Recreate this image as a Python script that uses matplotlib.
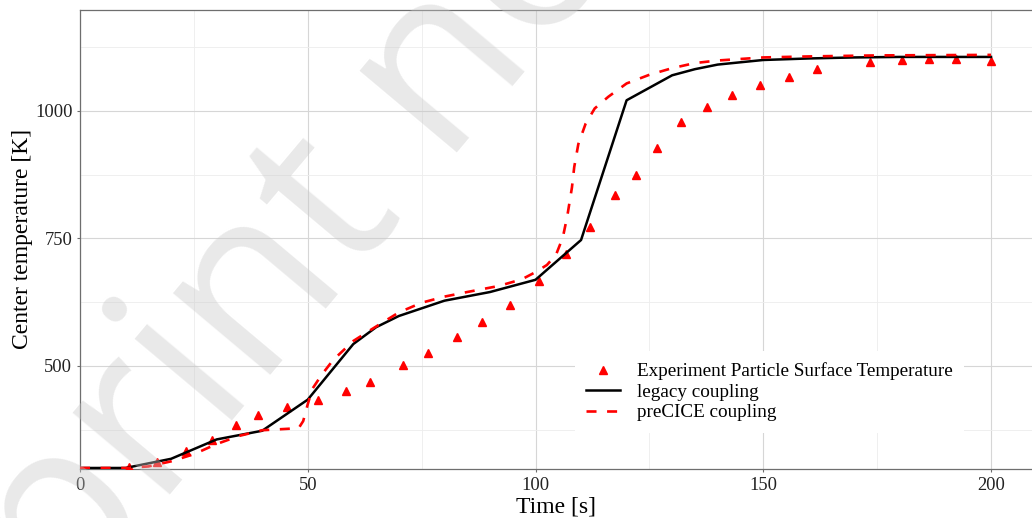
import matplotlib
matplotlib.use("Agg")
import matplotlib.pyplot as plt
from matplotlib.ticker import MultipleLocator

# experiment: particle surface temperature (triangles)
time_exp = [10.8, 16.8, 23.3, 28.9, 34.2, 39.1, 45.5, 52.3, 58.5, 63.7, 71.0, 76.5,
            82.7, 88.3, 94.5, 100.8, 106.7, 112.0, 117.5, 122.0, 126.7, 132.0, 137.6,
            143.1, 149.3, 155.6, 161.9, 173.5, 180.4, 186.3, 192.4, 199.9]
temp_exp = [302, 312, 334, 355, 384, 404, 419, 433, 450, 468, 501, 525,
            556, 586, 620, 667, 719, 773, 835, 874, 927, 979, 1007,
            1031, 1050, 1067, 1083, 1096, 1099, 1101, 1101, 1098]

# legacy coupling (black solid)
time_legacy = [0, 10, 20, 30, 40, 50, 60, 65, 70, 80, 90, 100, 110, 120, 130, 135,
               140, 150, 160, 170, 180, 190, 200]
temp_legacy = [300, 300, 318, 356, 373, 434, 543, 576, 598, 628, 645, 669, 747, 1021,
               1070, 1082, 1091, 1100, 1103, 1105, 1106, 1106, 1106]

# preCICE coupling (red dashed)
time_precice = [0, 10, 15, 20, 25, 30, 35, 40, 44, 48, 49, 50, 51, 53, 55.6, 60, 64.4,
                70, 75, 80, 85, 92, 97, 100, 102.5, 104.5, 106, 107, 108, 108.5, 109.4,
                111, 113, 116, 120, 125, 130, 135, 140, 150, 160, 175, 200]
temp_precice = [300, 300, 303, 313, 327, 347, 363, 374, 376, 378, 392, 425, 455, 482,
                512, 549, 574, 605, 624, 636, 645, 657, 670, 684, 698, 718, 752, 795,
                850, 890, 935, 975, 1005, 1028, 1054, 1071, 1084, 1094, 1099, 1105,
                1107, 1109, 1110]

plt.rcParams["font.family"] = ["Liberation Serif", "DejaVu Serif"]

fig = plt.figure(figsize=(10.32, 5.18), dpi=100)
ax = fig.add_axes([80 / 1032, 1 - 469 / 518, 1 - 80 / 1032, (469 - 9.5) / 518])

ax.plot(time_exp, temp_exp, ls="none", marker="^", ms=6, color="#ff0000",
        label="Experiment Particle Surface Temperature", zorder=3)
ax.plot(time_legacy, temp_legacy, color="black", lw=1.8,
        label="legacy coupling", zorder=4)
ax.plot(time_precice, temp_precice, color="#ff0000", lw=1.9, dashes=(3.8, 4.0),
        label="preCICE coupling", zorder=5)

ax.set_xlim(0, 209)
ax.set_ylim(298, 1199)
ax.xaxis.set_major_locator(MultipleLocator(50))
ax.xaxis.set_minor_locator(MultipleLocator(25))
ax.yaxis.set_major_locator(MultipleLocator(250))
ax.yaxis.set_minor_locator(MultipleLocator(125))
ax.grid(which="major", color="#d6d6d6", lw=0.8)
ax.grid(which="minor", color="#ededed", lw=0.6)
ax.set_axisbelow(True)
ax.tick_params(which="major", length=2.5, width=0.8, color="#6e6e6e", pad=3,
               labelsize=13.3, labelcolor="#222222")
ax.tick_params(which="minor", length=0)
for s in ("left", "bottom", "top"):
    ax.spines[s].set_color("#6e6e6e")
    ax.spines[s].set_linewidth(0.9)
ax.spines["right"].set_visible(False)

ax.set_xlabel("Time [s]", fontsize=17, labelpad=2)
ax.set_ylabel("Center temperature [K]", fontsize=17, labelpad=1)

leg = ax.legend(loc="center", bbox_to_anchor=(769.5 / 1032, 1 - 392 / 518),
                bbox_transform=fig.transFigure, fontsize=13.8, frameon=True,
                fancybox=False, framealpha=1, edgecolor="none", facecolor="white",
                handlelength=1.75, handletextpad=0.9, labelspacing=0.16,
                borderpad=0.6, numpoints=1)
leg.set_zorder(6)

# watermark across the figure (starts off-canvas at the lower left)
fig.text(-174 / 1032, 1 - 904 / 518, "Preprint not peer reviewed", fontsize=170,
         family="Open Sans", color="#c8c8c8", alpha=0.4, rotation=50,
         rotation_mode="anchor", ha="left", va="baseline", zorder=10)

fig.savefig("out.png", dpi=100)
